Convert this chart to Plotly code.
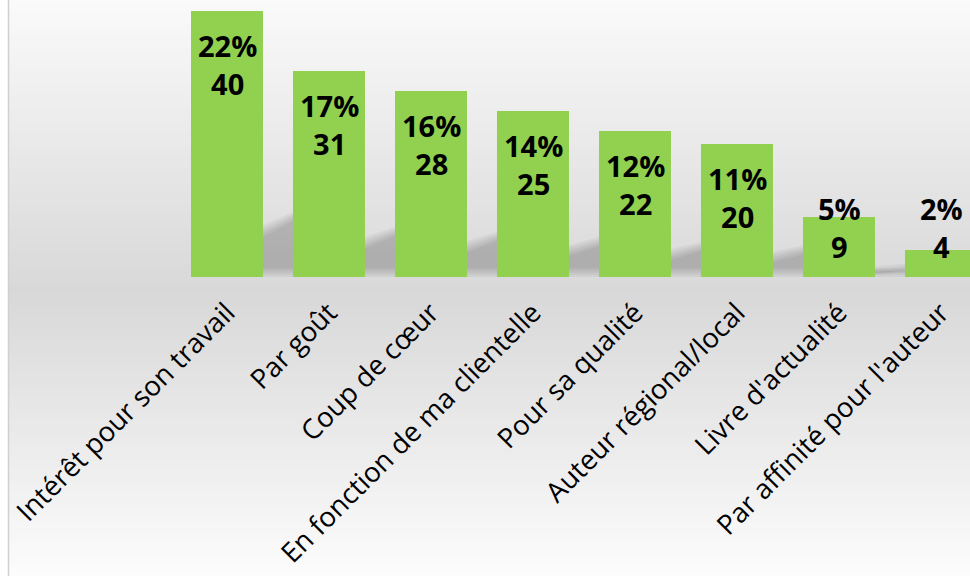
import plotly.graph_objects as go

categories = ["Intérêt pour son travail", "Par goût", "Coup de cœur",
              "En fonction de ma clientelle", "Pour sa qualité",
              "Auteur régional/local", "Livre d'actualité",
              "Par affinité pour l'auteur"]
counts = [40, 31, 28, 25, 22, 20, 9, 4]
percents = ["22%", "17%", "16%", "14%", "12%", "11%", "5%", "2%"]

W, H = 970, 576
ML, MB = 8, 299
plot_h = H - MB
px_per_unit = 6.65
ymax = plot_h / px_per_unit
step = 102.0
c0 = 227.0
xr = [(ML - c0) / step, (W - c0) / step]
bar_w = 0.706

fig = go.Figure()
fig.add_trace(go.Bar(
    x=list(range(len(categories))), y=counts,
    width=bar_w, marker=dict(color="#92D050", line=dict(width=0)),
    hoverinfo="skip",
))

def lerp(a, b, t):
    return a + (b - a) * t

shapes = []
n = 96
for i in range(n):
    y0px = H * i / n
    y1px = H * (i + 1) / n
    ym = (y0px + y1px) / 2
    if ym < 292:
        v = lerp(250, 216, ym / 292)
    else:
        v = lerp(216, 252, (ym - 292) / (H - 292))
    v = int(round(v))
    col = f"rgb({v},{v},{v})"
    shapes.append(dict(type="rect", xref="paper", yref="paper",
                       x0=(9 - ML) / (W - ML), x1=1.0,
                       y0=(plot_h - y1px) / plot_h - 0.001, y1=(plot_h - y0px) / plot_h + 0.001,
                       fillcolor=col, line=dict(width=0), layer="below"))
shapes.append(dict(type="line", xref="paper", yref="paper",
                   x0=(8.5 - ML) / (W - ML), x1=(8.5 - ML) / (W - ML),
                   y0=(plot_h - H) / plot_h, y1=1,
                   line=dict(color="#d0d0d0", width=1.5), layer="below"))

# soft perspective shadows in the gaps to the right of each bar
gap = 1.0 - bar_w
for i, c in enumerate(counts):
    xr0 = i + bar_w / 2
    for k in range(5):
        e = (4 - k) * 2.2  # expansion in px
        ex = e / step
        ey = e / px_per_unit
        hl = max(c * 0.18 + ey - 1.6, 0.3)
        hr = max(c * 0.26 + ey - 1.6, 0.3)
        x0 = xr0 - ex - 0.05
        x1 = xr0 + gap + 0.05
        yb = max(1.3 - ey, 0)
        path = f"M {x0} {yb} L {x0} {hl} L {x1} {hr} L {x1} {yb} Z"
        shapes.append(dict(type="path", xref="x", yref="y", path=path,
                           fillcolor="rgba(0,0,0,0.045)", line=dict(width=0), layer="below"))

annotations = []
for i, (c, p) in enumerate(zip(counts, percents)):
    if c * px_per_unit > 85:
        annotations.append(dict(x=i, y=c, xref="x", yref="y", text=f"<b>{p}<br>{c}</b>",
                                showarrow=False, yanchor="top", yshift=-13,
                                font=dict(family="Open Sans", size=29, color="black")))
    else:
        annotations.append(dict(x=i, y=0, xref="x", yref="y", text=f"<b>{p}<br>{c}</b>",
                                showarrow=False, yanchor="bottom", yshift=9,
                                font=dict(family="Open Sans", size=29, color="black")))

fig.update_layout(
    width=W, height=H,
    margin=dict(l=ML, r=0, t=0, b=MB, pad=0, autoexpand=False),
    paper_bgcolor="white", plot_bgcolor="rgba(0,0,0,0)",
    showlegend=False, bargap=0,
    shapes=shapes, annotations=annotations,
    xaxis=dict(range=xr, tickmode="array", tickvals=list(range(len(categories))),
               ticktext=categories, tickangle=-45, showgrid=False, zeroline=False,
               showline=False, ticks="", ticklabelstandoff=13, automargin=False,
               tickfont=dict(family="Open Sans", size=27.5, color="black")),
    yaxis=dict(range=[0, ymax], visible=False, showgrid=False, zeroline=False,
               automargin=False),
)

fig.write_html("out.html", config={"displayModeBar": False},
               post_script="document.body.style.margin='0';document.body.style.overflow='hidden';")
